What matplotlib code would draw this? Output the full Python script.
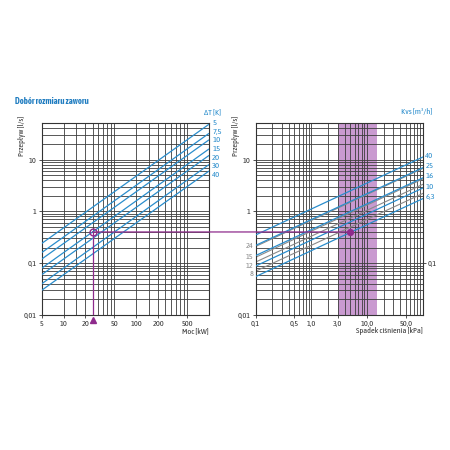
import matplotlib
matplotlib.use("Agg")
import matplotlib.pyplot as plt
from matplotlib.patches import ConnectionPatch
from matplotlib.ticker import FixedLocator, NullLocator, FixedFormatter
import matplotlib.transforms as mtransforms

plt.rcParams['font.family'] = ['Asap Condensed', 'DejaVu Sans']

# ---------------- data ----------------
title = "Dobór rozmiaru zaworu"

# left chart: power (kW) vs flow (l/s) for temperature differences
power_range = [5, 1000]
dT_labels = ["5", "7,5", "10", "15", "20", "30", "40"]
dT_flow_start = [0.24, 0.16, 0.12, 0.08, 0.06, 0.04, 0.03]   # at 5 kW
dT_flow_end = [48, 32, 24, 16, 12, 8, 6]                     # at 1000 kW

# right chart: pressure drop (kPa) vs flow (l/s) for Kvs values
dp_range = [0.1, 100]
kvs_blue_labels = ["40", "25", "16", "10", "6,3"]
kvs_blue_start = [0.35, 0.22, 0.14, 0.088, 0.055]
kvs_blue_end = [11.1, 6.9, 4.4, 2.8, 1.75]
kvs_gray_labels = ["24", "15", "12", "8"]
kvs_gray_start = [0.21, 0.13, 0.105, 0.07]
kvs_gray_end = [6.7, 4.2, 3.3, 2.2]

# recommended pressure drop band (kPa)
band = [3, 15]

# example reading
ex_power = 25
ex_flow = 0.4
ex_dp = 5

# axis ticks
left_xticks = [5, 10, 20, 50, 100, 200, 500]
left_xticklabels = ["5", "10", "20", "50", "100", "200", "500"]
left_xgrid = [10, 15, 20, 25, 30, 35, 40, 45, 50,
              100, 150, 200, 250, 300, 350, 400, 450, 500]
right_xticks = [0.1, 0.5, 1, 3, 10, 50]
right_xticklabels = ["0,1", "0,5", "1,0", "3,0", "10,0", "50,0"]
yticks_left = [0.01, 0.1, 1, 10]
yticklabels_left = ["0,01", "0,1", "1", "10"]
yticks_right = [0.01, 1, 10]
yticklabels_right = ["0,01", "1", "10"]

# ---------------- style ----------------
BLUE = '#2a8dcc'
GRAY = '#8a8a8a'
PURPLE = '#8e2b8c'
BAND = '#c99ad0'
GRID = '#3c3c3c'
TXT = '#333333'
FS = 5.9

def log_grid(lo_exp, hi_exp, top):
    vals = []
    for e in range(lo_exp, hi_exp + 1):
        for m in range(1, 10):
            v = m * 10.0 ** e
            if v <= top * 1.0001:
                vals.append(v)
    return vals

def spread_offsets(ax, xs, ys, min_gap_pt):
    """vertical offsets (points) so that stacked labels keep a minimal gap"""
    pts = [ax.transData.transform((x, y))[1] * 72 / fig.dpi for x, y in zip(xs, ys)]
    order = sorted(range(len(pts)), key=lambda i: -pts[i])
    new = list(pts)
    for k in range(1, len(order)):
        i, j = order[k - 1], order[k]
        if new[i] - new[j] < min_gap_pt:
            new[j] = new[i] - min_gap_pt
    return [n - p for n, p in zip(new, pts)]

fig = plt.figure(figsize=(4.5, 4.5), dpi=100)
ax1 = fig.add_axes([0.0927, 0.300, 0.3718, 0.426])
ax2 = fig.add_axes([0.568, 0.300, 0.371, 0.426])

ygrid = log_grid(-2, 1, 50)

for ax in (ax1, ax2):
    ax.set_xscale('log')
    ax.set_yscale('log')
    ax.set_ylim(0.01, 50)
    for s in ax.spines.values():
        s.set_color(TXT)
        s.set_linewidth(0.8)
    for v in ygrid:
        ax.axhline(v, color=GRID, lw=0.6, zorder=1)
    ax.tick_params(axis='both', which='major', labelsize=FS, length=2.5,
                   width=0.6, colors=TXT)
    ax.tick_params(axis='x', which='major', pad=0.8)
    ax.tick_params(axis='y', which='major', pad=1.2)
    ax.tick_params(which='minor', length=0)
    ax.text(-0.118, 0.935, "Przepływ [l/s]", transform=ax.transAxes,
            rotation=90, ha='center', va='center', fontsize=FS, color=TXT)

# ---- left chart ----
ax1.set_xlim(5, 1000)
for v in left_xgrid:
    ax1.axvline(v, color=GRID, lw=0.6, zorder=1)
ax1.xaxis.set_major_locator(FixedLocator(left_xticks))
ax1.xaxis.set_major_formatter(FixedFormatter(left_xticklabels))
ax1.xaxis.set_minor_locator(NullLocator())
ax1.yaxis.set_major_locator(FixedLocator(yticks_left))
ax1.yaxis.set_major_formatter(FixedFormatter(yticklabels_left))
ax1.yaxis.set_minor_locator(NullLocator())

LFS = FS + 0.2
offs = spread_offsets(ax1, [power_range[1]] * len(dT_flow_end), dT_flow_end, LFS * 1.02)
for lab, f0, f1, dy in zip(dT_labels, dT_flow_start, dT_flow_end, offs):
    ax1.plot(power_range, [f0, f1], color=BLUE, lw=0.9, zorder=3,
             solid_capstyle='butt')
    ax1.annotate(lab, xy=(power_range[1], f1), xytext=(2.3, 1.2 + dy),
                 textcoords='offset points', ha='left', va='center',
                 fontsize=LFS, color=BLUE, annotation_clip=False)
ax1.text(1.072, 1.058, "ΔT [K]", transform=ax1.transAxes, ha='right',
         va='center', fontsize=LFS, color=BLUE)
ax1.text(1.0, -0.083, "Moc [kW]", transform=ax1.transAxes, ha='right',
         va='center', fontsize=FS, color=TXT)

# example on left chart
ax1.plot([ex_power, ex_power], [ex_flow, 0.01], color=PURPLE, lw=0.9, zorder=4)
ax1.plot([ex_power], [ex_flow], marker='o', ms=5, mfc='none', mec=PURPLE,
         mew=1.0, zorder=6)
trans = mtransforms.blended_transform_factory(ax1.transData, ax1.transAxes)
ax1.plot([ex_power], [-0.024], marker='^', ms=4.5, color=PURPLE,
         transform=trans, clip_on=False, zorder=6)

# ---- right chart ----
ax2.set_xlim(dp_range[0], dp_range[1])
for v in log_grid(-1, 2, 100):
    ax2.axvline(v, color=GRID, lw=0.6, zorder=1)
ax2.axvspan(band[0], band[1], color=BAND, lw=0, zorder=0.5)
ax2.xaxis.set_major_locator(FixedLocator(right_xticks))
ax2.xaxis.set_major_formatter(FixedFormatter(right_xticklabels))
ax2.xaxis.set_minor_locator(NullLocator())
ax2.yaxis.set_major_locator(FixedLocator(yticks_right))
ax2.yaxis.set_major_formatter(FixedFormatter(yticklabels_right))
ax2.yaxis.set_minor_locator(NullLocator())

sec = ax2.secondary_yaxis('right')
sec.set_yticks([0.1])
sec.set_yticklabels(["0,1"])
sec.yaxis.set_minor_locator(NullLocator())
sec.tick_params(labelsize=FS, length=2.5, width=0.6, pad=1.2, colors=TXT)
sec.spines['right'].set_visible(False)

goffs = spread_offsets(ax2, [dp_range[0]] * len(kvs_gray_start), kvs_gray_start, FS * 1.02)
for lab, f0, f1, dy in zip(kvs_gray_labels, kvs_gray_start, kvs_gray_end, goffs):
    ax2.plot(dp_range, [f0, f1], color=GRAY, lw=0.8, zorder=2.5)
    ax2.annotate(lab, xy=(dp_range[0], f0), xytext=(-1.5, dy),
                 textcoords='offset points', ha='right', va='center',
                 fontsize=FS, color=GRAY, annotation_clip=False)
boffs = spread_offsets(ax2, [dp_range[1]] * len(kvs_blue_end), kvs_blue_end, LFS * 1.02)
for lab, f0, f1, dy in zip(kvs_blue_labels, kvs_blue_start, kvs_blue_end, boffs):
    ax2.plot(dp_range, [f0, f1], color=BLUE, lw=0.9, zorder=3)
    ax2.annotate(lab, xy=(dp_range[1], f1), xytext=(2, 1.2 + dy),
                 textcoords='offset points', ha='left', va='center',
                 fontsize=LFS, color=BLUE, annotation_clip=False)
ax2.text(1.06, 1.058, "Kvs [m³/h]", transform=ax2.transAxes, ha='right',
         va='center', fontsize=LFS, color=BLUE)
ax2.text(1.0, -0.083, "Spadek ciśnienia [kPa]", transform=ax2.transAxes,
         ha='right', va='center', fontsize=FS, color=TXT)

ax2.plot([ex_dp], [ex_flow], marker='o', ms=4.2, color=PURPLE, zorder=6)

con = ConnectionPatch(xyA=(ex_power, ex_flow), coordsA=ax1.transData,
                      xyB=(ex_dp, ex_flow), coordsB=ax2.transData,
                      color=PURPLE, lw=0.9, zorder=5)
fig.add_artist(con)

fig.text(15 / 450, 1 - 101 / 450, title, fontsize=FS + 0.3, fontweight='bold',
         color='#1f7cc0', ha='left', va='center')

fig.savefig("out.png", dpi=100)
